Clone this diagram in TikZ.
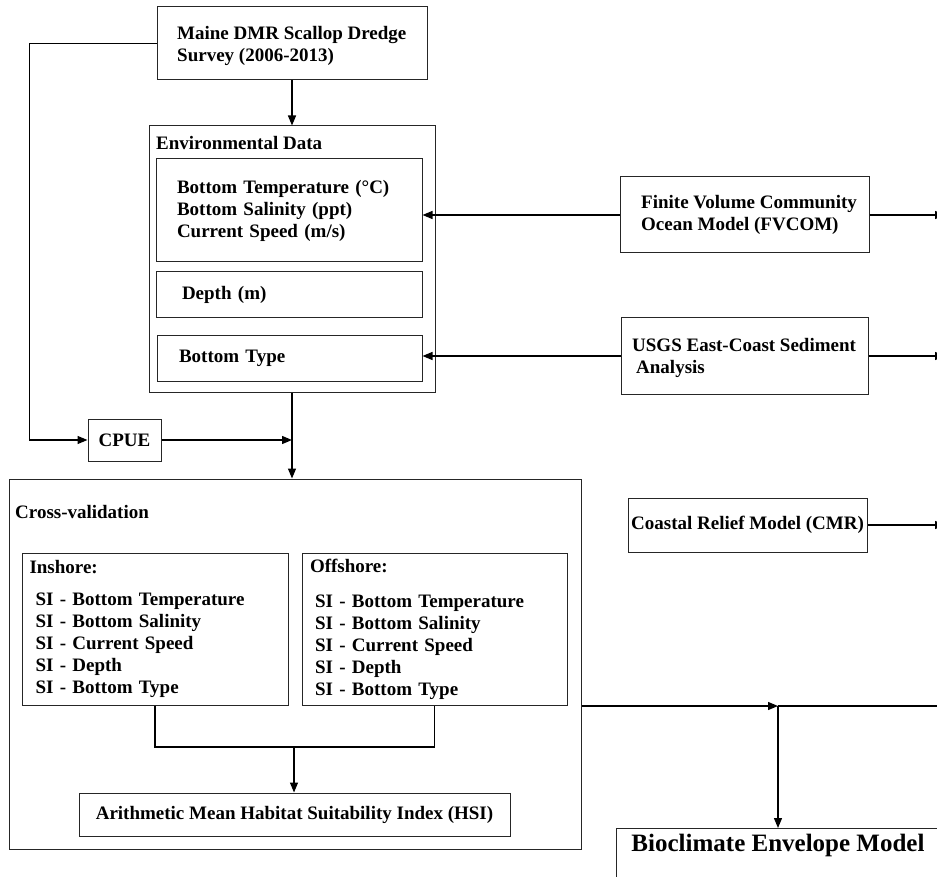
\documentclass[tikz,border=0pt]{standalone}
\usepackage{fontspec}
\setmainfont{Liberation Serif}
\usepackage{tikz}
\usetikzlibrary{arrows,arrows.meta}

\begin{document}
\begin{tikzpicture}[x=1pt,y=-1pt,
  every node/.style={font=\bfseries\fontsize{19}{22}\selectfont, inner sep=0pt},
  box/.style={draw=black!85, line width=1pt},
  arr/.style={-{Triangle[length=10pt,width=8pt]}, line width=1.3pt},
  wire/.style={line width=1.3pt}]
\useasboundingbox (0,0) rectangle (937,877);
\clip (0,0) rectangle (937,877);

\node [box, minimum width=270pt, minimum height=73pt] (maine) at (292,43.5) {};
\node [anchor=west, align=left] (mainetxt) at (177,46) {Maine DMR Scallop Dredge\\Survey (2006-2013)};

\node [box, minimum width=286pt, minimum height=266pt] (env) at (292,259) {};
\node [anchor=west] (envlab) at (156,143) {Environmental Data};
\node [box, minimum width=266pt, minimum height=103pt, text width=224pt, align=left] (temp) at (289,210.5) {Bottom Temperature (°C)\\Bottom Salinity (ppt)\\Current Speed (m/s)};
\node [box, minimum width=266pt, minimum height=46pt, text width=214pt, align=left] (depth) at (289,295) {Depth (m)};
\node [box, minimum width=265pt, minimum height=46pt, text width=221pt, align=left] (btype) at (289.5,358) {Bottom Type};

\node [box, minimum width=73pt, minimum height=42pt] (cpue) at (124.5,440) {CPUE};

\node [box, minimum width=572pt, minimum height=370pt] (cv) at (295,664) {};
\node [anchor=west] (cvlab) at (15,512) {Cross-validation};
\node [box, minimum width=266pt, minimum height=152pt, text width=251pt, align=left] (inshore) at (155,629) {Inshore:\\[10pt]\hspace*{6pt}SI - Bottom Temperature\\\hspace*{6pt}SI - Bottom Salinity\\\hspace*{6pt}SI - Current Speed\\\hspace*{6pt}SI - Depth\\\hspace*{6pt}SI - Bottom Type};
\node [box, minimum width=265pt, minimum height=152pt, text width=249pt, align=left] (offshore) at (434.5,629) {Offshore:\\[13pt]\hspace*{5pt}SI - Bottom Temperature\\\hspace*{5pt}SI - Bottom Salinity\\\hspace*{5pt}SI - Current Speed\\\hspace*{5pt}SI - Depth\\\hspace*{5pt}SI - Bottom Type};
\node [box, minimum width=431pt, minimum height=43pt] (hsi) at (294.5,814.5) {Arithmetic Mean Habitat Suitability Index (HSI)};

\node [box, minimum width=249pt, minimum height=76pt] (fvcom) at (744.5,215) {};
\node [anchor=west, align=left] (fvcomtxt) at (641,214.5) {Finite Volume Community\\Ocean Model (FVCOM)};
\node [box, minimum width=247pt, minimum height=76pt] (usgs) at (744.5,356) {};
\node [anchor=west, align=left] (usgstxt) at (632,357.5) {USGS East-Coast Sediment\\\hspace*{4pt}Analysis};
\node [box, minimum width=239pt, minimum height=54pt] (cmr) at (747.5,525) {Coastal Relief Model (CMR)};
\node [box, anchor=north, minimum width=324pt, inner ysep=6pt, text depth=60pt, font=\bfseries\fontsize{25}{28}\selectfont] (bio) at (778,828) {Bioclimate Envelope Model};

\coordinate (fvend) at (945,215);
\coordinate (usend) at (945,356);
\coordinate (cmrend) at (945,525);
\coordinate (split) at (778,706);
\coordinate (rightend) at (940,706);
\coordinate (merge) at (294,747);

\draw [arr] (maine.south) -- (env.north);
\draw [arr] (maine.west) -- ++(-127,0) |- (cpue.west);
\draw [arr] (cpue.east) -- (cpue.east -| env.south);
\draw [arr] (env.south) -- (env.south |- cv.north);
\draw [arr] (fvcom.west) -- (fvcom.west -| temp.east);
\draw [arr] (usgs.west) -- (usgs.west -| btype.east);
\draw [arr] (fvcom.east) -- (fvend);
\draw [arr] (usgs.east) -- (usend);
\draw [arr] (cmr.east) -- (cmrend);
\draw [wire] (inshore.south) |- (merge) -| (offshore.south);
\draw [arr] (merge) -- (merge |- hsi.north);
\draw [arr] (split -| cv.east) -- (split);
\draw [wire] (split) -- (rightend);
\draw [arr] (split) -- (bio.north);

\end{tikzpicture}
\end{document}
